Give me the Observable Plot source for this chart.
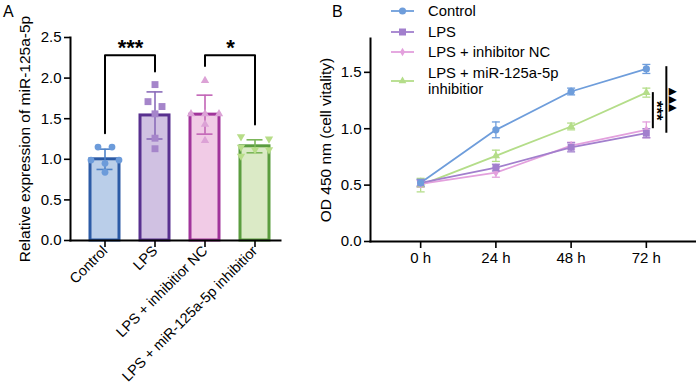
<!DOCTYPE html>
<html><head><meta charset="utf-8">
<script src="https://cdn.jsdelivr.net/npm/d3@7"></script>
<script src="https://cdn.jsdelivr.net/npm/@observablehq/plot@0.6"></script>
<style>
body{margin:0;background:#fff;}
#wrap{position:relative;width:696px;height:387px;overflow:hidden;font-family:"Liberation Sans",Arial,sans-serif;color:#000;}
#a,#b{position:absolute;top:0;}
#a{left:0px}
#b{left:310px}
.plab{position:absolute;font-size:16px;line-height:16px;}
#legend{position:absolute;left:390px;top:3px;display:flex;flex-direction:column;gap:4px;font-size:14.8px;line-height:16.5px;}
#legend .row{display:flex;align-items:center;}
#legend .row span{width:150px;margin-left:13px;}
</style></head>
<body><div id="wrap"><div id="a"></div><div id="b"></div>
<div class="plab" style="left:3px;top:4px">A</div>
<div class="plab" style="left:332px;top:4px">B</div>
<div id="legend"></div>
</div>
<script>
// ---------- Panel A data ----------
const groupsA = ["Control", "LPS", "LPS + inhibitior NC", "LPS + miR-125a-5p inhibitior"];
const meansA = [1.0, 1.54, 1.55, 1.16];
const sdsA = [0.125, 0.29, 0.24, 0.08];
const pointsA = [
  [1.15, 1.15, 0.99, 0.99, 0.95, 0.84],
  [1.92, 1.71, 1.65, 1.56, 1.26, 1.13],
  [1.97, 1.56, 1.56, 1.56, 1.43, 1.23],
  [1.28, 1.25, 1.15, 1.12, 1.12, 1.04]
];
const slotsA = [
  [-1, 1, -2, 2, 0, 0],
  [0, -1, 1, 0, 0, 0],
  [0, -2, 0, 2, 0, 0],
  [-2, 2, -2, 0, 2, -2]
];
const yTicksA = [0, 0.5, 1.0, 1.5, 2.0, 2.5];
const bracketFrom = ["Control", "LPS + inhibitior NC"];
const bracketTo = ["LPS", "LPS + miR-125a-5p inhibitior"];
const bracketTop = [2.28, 2.28];
const bracketFromEnd = [1.32, 2.15];
const bracketToEnd = [2.08, 1.43];
const bracketLabels = ["***", "*"];

// ---------- Panel B data ----------
const timesB = [0, 24, 48, 72];
const timeLabelsB = ["0 h", "24 h", "48 h", "72 h"];
const seriesB = ["Control", "LPS", "LPS + inhibitor NC", "LPS + miR-125a-5p inhibitior"];
const controlB = [0.52, 0.99, 1.33, 1.53];
const controlSdB = [0.03, 0.07, 0.03, 0.04];
const lpsB = [0.52, 0.655, 0.835, 0.96];
const lpsSdB = [0.03, 0.03, 0.04, 0.04];
const ncB = [0.51, 0.61, 0.85, 0.99];
const ncSdB = [0.03, 0.04, 0.03, 0.07];
const mirB = [0.50, 0.76, 1.02, 1.32];
const mirSdB = [0.06, 0.05, 0.03, 0.04];
const yTicksB = [0, 0.5, 1.0, 1.5];
const sigTopB = [1.32, 1.55];
const sigBottomB = [1.0, 0.96];
const sigLabelsB = ["***", "▲▲▲"];

// ---------- styles ----------
const FONT = '"Liberation Sans", Arial, sans-serif';
const FS = 15;
const XFS = 14.4;
const LFS = 15.5;
const barFill = ["#bacee9", "#d0c1e2", "#f1cbe6", "#dbeac6"];
const barStroke = ["#2c5ba6", "#58308f", "#a1349b", "#5b9d3f"];
const errColor = ["#4f82c7", "#8a6cb9", "#c264b6", "#7cb65a"];
const ptColor = ["#6c9bda", "#a585ca", "#dca2d6", "#b7dd88"];
const ptSymbol = ["circle", "square", "triangle", "triangle"];
const ptR = [3.4, 3.9, 3.1, 3.1];
const ptRotate = [0, 0, 0, 180];
const lineColors = ["#6e9ddb", "#a27fcd", "#e3a0dd", "#b4dd89"];
const lineSymbols = ["circle", "square", "diamond", "triangle"];

// ---------- Panel A ----------
const barRows = groupsA.map((g, i) => ({group: g, mean: meansA[i], sd: sdsA[i], i}));
const pointRows = groupsA.flatMap((g, i) => pointsA[i].map((v, j) => ({group: g, value: v, slot: slotsA[i][j], i})));
const bracketRows = bracketFrom.flatMap((f, k) => [
  {k, g: f, y: bracketFromEnd[k]},
  {k, g: f, y: bracketTop[k]},
  {k, g: bracketTo[k], y: bracketTop[k]},
  {k, g: bracketTo[k], y: bracketToEnd[k]}
]);
const bracketText = bracketFrom.map((f, k) => ({g: f, y: bracketTop[k] + 0.09, label: bracketLabels[k]}));

const dotMarksA = [];
groupsA.forEach((g, i) => {
  [-2, -1, 0, 1, 2].forEach(s => {
    const rows = pointRows.filter(d => d.i === i && d.slot === s);
    if (rows.length) dotMarksA.push(Plot.dot(rows, {
      x: "group", y: "value", symbol: ptSymbol[i], r: ptR[i], rotate: ptRotate[i],
      fill: ptColor[i], stroke: "none", dx: s * 7
    }));
  });
});

const chartA = Plot.plot({
  width: 300, height: 387,
  marginLeft: 70, marginRight: 20, marginTop: 37, marginBottom: 147,
  style: {fontFamily: FONT, fontSize: FS + "px", color: "#000", background: "transparent", overflow: "visible"},
  x: {domain: groupsA, range: [79, 279], paddingInner: 0.42, paddingOuter: 0.21},
  y: {domain: [0, 2.5]},
  marks: [
    Plot.barY(barRows, {x: "group", y: "mean", fill: d => barFill[d.i], stroke: d => barStroke[d.i], strokeWidth: 3}),
    Plot.ruleX(barRows, {x: "group", y1: d => d.mean - d.sd, y2: d => d.mean + d.sd, stroke: d => errColor[d.i], strokeWidth: 1.6}),
    Plot.tickY(barRows, {x: "group", y: d => d.mean + d.sd, stroke: d => errColor[d.i], strokeWidth: 1.6, insetLeft: 6.5, insetRight: 6.5}),
    Plot.tickY(barRows, {x: "group", y: d => d.mean - d.sd, stroke: d => errColor[d.i], strokeWidth: 1.6, insetLeft: 6.5, insetRight: 6.5}),
    ...dotMarksA,
    Plot.line(bracketRows, {x: "g", y: "y", z: "k", stroke: "#000", strokeWidth: 2, curve: "linear"}),
    Plot.text(bracketText, {x: "g", y: "y", text: "label", dx: 25.5, fontSize: 22, fontWeight: "bold", fill: "#000", letterSpacing: 1.5}),
    Plot.frame({anchor: "left", strokeWidth: 2}),
    Plot.frame({anchor: "bottom", strokeWidth: 2}),
    Plot.axisY({ticks: yTicksA, tickFormat: d3.format(".1f"), tickSize: 6, tickPadding: 3, strokeWidth: 1.6, fontSize: FS, label: null}),
    Plot.axisY({ticks: [], tickSize: 0, label: "Relative expression of miR-125a-5p", labelAnchor: "center", labelArrow: "none", labelOffset: 52, fontSize: LFS}),
    Plot.axisX({tickRotate: -45, tickSize: 7, tickPadding: 1, strokeWidth: 1.6, label: null, fontSize: XFS})
  ]
});
document.getElementById("a").append(chartA);

// ---------- Panel B ----------
const valsB = [controlB, lpsB, ncB, mirB];
const sdB = [controlSdB, lpsSdB, ncSdB, mirSdB];
const rowsB = seriesB.flatMap((s, i) => timesB.map((t, j) => ({series: s, i, time: t, value: valsB[i][j], sd: sdB[i][j]})));
const sigRows = sigTopB.map((t, k) => ({time: timesB[timesB.length - 1], top: t, bottom: sigBottomB[k], mid: (t + sigBottomB[k]) / 2, label: sigLabelsB[k]}));
const capSymbol = {draw(ctx, size) { const w = Math.sqrt(size / Math.PI); ctx.moveTo(-w, 0); ctx.lineTo(w, 0); }};

const orderB = [3, 2, 1, 0];
const seriesMarks = [];
orderB.forEach(i => {
  const rows = rowsB.filter(d => d.i === i);
  seriesMarks.push(
    Plot.line(rows, {x: "time", y: "value", stroke: lineColors[i], strokeWidth: 1.8}),
    Plot.ruleX(rows, {x: "time", y1: d => d.value - d.sd, y2: d => d.value + d.sd, stroke: lineColors[i], strokeWidth: 1.3}),
    Plot.dot(rows, {x: "time", y: d => d.value + d.sd, symbol: capSymbol, r: 4, fill: "none", stroke: lineColors[i], strokeWidth: 1.3}),
    Plot.dot(rows, {x: "time", y: d => d.value - d.sd, symbol: capSymbol, r: 4, fill: "none", stroke: lineColors[i], strokeWidth: 1.3})
  );
});
orderB.forEach(i => {
  const rows = rowsB.filter(d => d.i === i);
  seriesMarks.push(Plot.dot(rows, {x: "time", y: "value", symbol: lineSymbols[i], r: [3.6, 3.9, 2.8, 3.1][i], fill: lineColors[i], stroke: "none"}));
});

const chartB = Plot.plot({
  width: 386, height: 387,
  marginLeft: 60, marginRight: 0, marginTop: 38, marginBottom: 146,
  style: {fontFamily: FONT, fontSize: FS + "px", color: "#000", background: "transparent", overflow: "visible"},
  x: {domain: [-16, 88]},
  y: {domain: [0, 1.8]},
  marks: [
    ...seriesMarks,
    Plot.ruleX(sigRows.slice(0, 1), {x: "time", y1: "bottom", y2: "top", dx: 6.5, stroke: "#000", strokeWidth: 2}),
    Plot.ruleX(sigRows.slice(1), {x: "time", y1: "bottom", y2: "top", dx: 20, stroke: "#000", strokeWidth: 2}),
    Plot.text(sigRows.slice(0, 1), {x: "time", y: "mid", text: "label", dx: 9.5, rotate: 90, fontSize: 16.5, fontWeight: "bold", fill: "#000"}),
    Plot.text(sigRows.slice(1), {x: "time", y: "mid", text: "label", dx: 27, rotate: 90, fontSize: 10.5, fontFamily: "DejaVu Sans", fill: "#000"}),
    Plot.frame({anchor: "left", strokeWidth: 2}),
    Plot.frame({anchor: "bottom", strokeWidth: 2}),
    Plot.axisY({ticks: yTicksB, tickFormat: d3.format(".1f"), tickSize: 6, tickPadding: 3, strokeWidth: 1.6, fontSize: FS, label: null}),
    Plot.axisY({ticks: [], tickSize: 0, label: "OD 450 nm (cell vitality)", labelAnchor: "center", labelArrow: "none", labelOffset: 51, fontSize: LFS}),
    Plot.axisX({ticks: timesB, tickFormat: (d) => timeLabelsB[timesB.indexOf(d)], tickSize: 7, tickPadding: 4, strokeWidth: 1.6, label: null, fontSize: FS})
  ]
});
document.getElementById("b").append(chartB);

// ---------- Legend for B ----------
const legend = d3.select("#legend");
seriesB.forEach((s, i) => {
  const row = legend.append("div").attr("class", "row");
  const svg = row.append("svg").attr("width", 25).attr("height", 10);
  svg.append("line").attr("x1", 1).attr("x2", 24).attr("y1", 5).attr("y2", 5)
    .attr("stroke", lineColors[i]).attr("stroke-width", 1.8);
  svg.append("path").attr("transform", "translate(12.5,5)")
    .attr("d", d3.symbol(d3["symbol" + lineSymbols[i][0].toUpperCase() + lineSymbols[i].slice(1)], [40, 49, 22, 26][i])())
    .attr("fill", lineColors[i]);
  row.append("span").text(s);
});
</script>
</body></html>
